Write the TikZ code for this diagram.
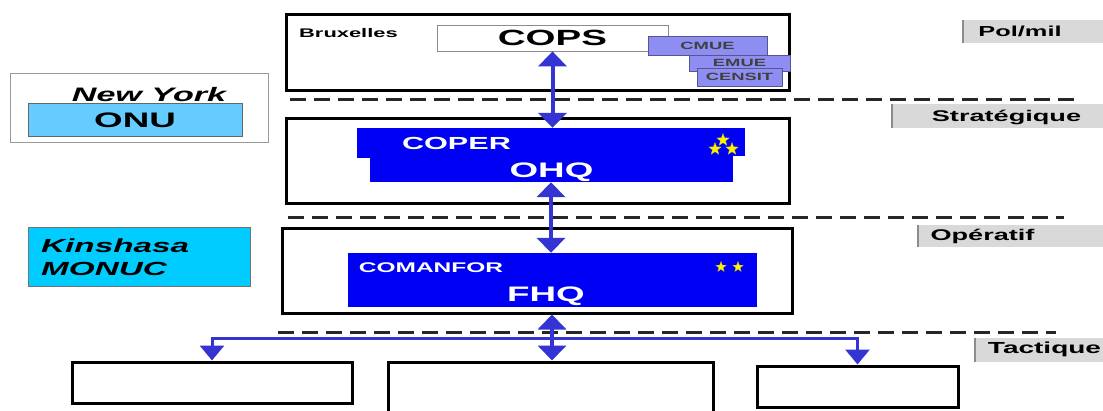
\documentclass[tikz,border=0pt]{standalone}
\usepackage{fontspec}
\setmainfont{Liberation Sans}[FakeStretch=1.75]
\usetikzlibrary{arrows.meta}
\usetikzlibrary{shapes.geometric}

\definecolor{linkblue}{HTML}{3434D2}
\definecolor{hqblue}{HTML}{0000F4}
\definecolor{cellblue}{HTML}{8E8EF2}
\definecolor{onublue}{HTML}{66CCFF}
\definecolor{monucblue}{HTML}{00CCFF}
\definecolor{tiergray}{HTML}{D9D9D9}

\begin{document}
\begin{tikzpicture}[x=1pt, y=-1pt,
            levelbox/.style={draw=black, line width=3pt, inner sep=0pt},
            hqbox/.style={fill=hqblue, inner sep=0pt},
            cellbox/.style={draw=cellblue!60!black, fill=cellblue, line width=0.8pt, inner sep=0pt,
                            font=\fontsize{10.5}{12}\selectfont\bfseries, text=black!75},
            tierbox/.style={fill=tiergray, inner sep=0pt},
            tiertext/.style={inner sep=0pt, font=\fontsize{15.5}{18}\selectfont\bfseries},
            hqtext/.style={inner sep=0pt, text=white, font=\bfseries},
            cutline/.style={black!85, line width=3pt, dash pattern=on 16pt off 8pt},
            link/.style={linkblue, line width=4pt, arrows={Triangle[width=28pt, length=15pt]-Triangle[width=28pt, length=15pt]}},
            branch/.style={linkblue, line width=3pt, -{Triangle[width=24pt, length=15pt]}},
            flag/.style={star, star points=5, star point ratio=2.4, fill=yellow, draw=yellow!70!black, line width=0.3pt, inner sep=0pt}
        ]
            \useasboundingbox (0,0) rectangle (1103,410);

            % Pol/mil level
            \node[levelbox, minimum width=503, minimum height=76] (brux) at (538,52) {};
            \node[anchor=west, inner sep=0pt, font=\fontsize{12.5}{14}\selectfont\bfseries] (bruxtext) at (299,33) {Bruxelles};
            \node[draw=black!45, line width=0.8pt, minimum width=231, minimum height=26, inner sep=0pt,
                  font=\fontsize{22}{24}\selectfont\bfseries] (cops) at (552.5,38) {COPS};
            \node[cellbox, minimum width=119, minimum height=19] (cmue) at (707.5,45.5) {CMUE};
            \node[cellbox, minimum width=101, minimum height=16] (emue) at (739.5,63) {EMUE};
            \node[cellbox, minimum width=85, minimum height=18] (censit) at (739.5,77) {CENSIT};

            % New York
            \node[draw=black!40, line width=0.8pt, minimum width=258, minimum height=69] (nybox) at (139,108) {};
            \node[inner sep=0pt, font=\fontsize{19.5}{22}\selectfont\bfseries\itshape] (nytext) at (149,95) {New York};
            \node[draw=black!60, fill=onublue, line width=0.8pt, minimum width=214, minimum height=33, inner sep=0pt,
                  font=\fontsize{21}{24}\selectfont\bfseries] (onu) at (135,120) {ONU};

            % Strategique level
            \node[levelbox, minimum width=503, minimum height=85] (strat) at (538,160.5) {};
            \node[hqbox, minimum width=388, minimum height=54] (ohq) at (551,155) {};
            \fill[white] (356,158) rectangle (370,183);
            \fill[white] (733,156) rectangle (746,183);
            \node[hqtext, font=\fontsize{17.5}{20}\selectfont\bfseries] (coper) at (456.5,143) {COPER};
            \node[hqtext, font=\fontsize{21}{24}\selectfont\bfseries] (ohqtext) at (551.5,172.5) {OHQ};
            \node[flag, minimum size=13pt] (ostar1) at (723,140) {};
            \node[flag, minimum size=13pt] (ostar2) at (715,149) {};
            \node[flag, minimum size=13pt] (ostar3) at (732,149) {};

            % Kinshasa
            \node[draw=black!55, fill=monucblue, line width=0.8pt, minimum width=222, minimum height=59] (monuc) at (139,257) {};
            \node[anchor=west, inner sep=0pt, align=left,
                  font=\fontsize{19}{23}\selectfont\bfseries\itshape] (monuctext) at (41,257) {Kinshasa\\MONUC};

            % Operatif level
            \node[levelbox, minimum width=510, minimum height=85] (oper) at (537.5,270.5) {};
            \node[hqbox, minimum width=409, minimum height=54] (fhq) at (552.5,280) {};
            \node[hqtext, font=\fontsize{14}{16}\selectfont\bfseries] (comanfor) at (431,268) {COMANFOR};
            \node[hqtext, font=\fontsize{21}{24}\selectfont\bfseries] (fhqtext) at (546,296) {FHQ};
            \node[flag, minimum size=11pt] (fstar1) at (721,267) {};
            \node[flag, minimum size=11pt] (fstar2) at (738,267) {};

            % tactical units
            \node[levelbox, minimum width=280, minimum height=41] (unitA) at (212,382.5) {};
            \node[levelbox, minimum width=325, minimum height=50] (unitB) at (551,387) {};
            \node[levelbox, minimum width=201, minimum height=41] (unitC) at (857.5,386.5) {};

            % level cut lines
            \draw[cutline] (290,99) -- (1077,99);
            \draw[cutline] (288,217) -- (1064,217);
            \draw[cutline] (278,332) -- (1056,332);

            % level tags (right side)
            \node[tierbox, anchor=west, minimum width=141, minimum height=23] (polbox) at (963,31.5) {};
            \node[tierbox, anchor=west, minimum width=212, minimum height=24] (stratbox) at (892,116) {};
            \node[tierbox, anchor=west, minimum width=186, minimum height=22] (operbox) at (918,236) {};
            \node[tierbox, anchor=west, minimum width=129, minimum height=24] (tactbox) at (975,350) {};
            \foreach \b in {polbox, stratbox, operbox, tactbox}{
                \draw[black!45, line width=1.5pt] (\b.north west) -- (\b.south west);
            }
            \node[tiertext, font=\fontsize{14.5}{17}\selectfont\bfseries] (poltext) at (1020,31.5) {Pol/mil};
            \node[tiertext] (strattext) at (1006.5,117.5) {Stratégique};
            \node[tiertext] (opertext) at (982.5,236) {Opératif};
            \node[tiertext, font=\fontsize{16}{18}\selectfont\bfseries] (tacttext) at (1044.5,349.5) {Tactique};

            % links
            \draw[link] (cops.south) -- (cops.south |- ohq.north);
            \draw[link] (ohq.south) -- (ohq.south |- fhq.north);
            \coordinate (fork) at (552,338);
            \draw[link] (fork |- oper.south) -- (fork |- unitB.north);
            \draw[branch] (fork) -| (unitA.north);
            \draw[branch] (fork) -| (unitC.north);

        \end{tikzpicture}
\end{document}
